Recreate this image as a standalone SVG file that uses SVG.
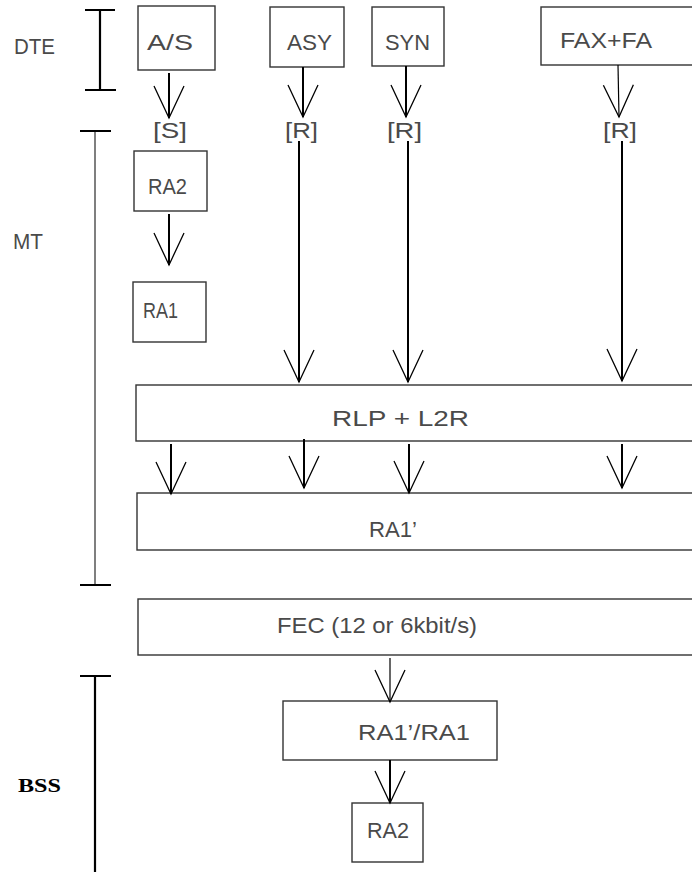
<svg xmlns="http://www.w3.org/2000/svg" width="692" height="872" viewBox="0 0 692 872">
<style>
.box{fill:none;stroke:#333;stroke-width:1.4}
.lbl{font-family:"Liberation Sans",Arial,sans-serif;font-size:22px;fill:#4a4a4a}
.bss{font-family:"Liberation Serif","Times New Roman",serif;font-size:19px;font-weight:bold;fill:#000}
.shaft{stroke:#000;stroke-width:2;fill:none}
.thin{stroke:#000;stroke-width:1.2;fill:none}
.brk{stroke:#000;stroke-width:2.2;fill:none}
.brkg{stroke:#555;stroke-width:1.5;fill:none}
</style>
<defs>
<marker id="v" markerUnits="userSpaceOnUse" viewBox="-34 -17 36 34" refX="0" refY="0" markerWidth="36" markerHeight="34" orient="auto">
<path d="M-32,-15 L0,0 L-32,15" fill="none" stroke="#000" stroke-width="1.3"/>
</marker>
</defs>
<rect width="692" height="872" fill="#fff"/>

<g id="brackets">
<path class="brk" d="M100,10 V90 M85,10 H115 M85,90 H116"/>
<path class="brkg" d="M95,131 V585"/>
<path class="brk" d="M80,131 H111 M80,585 H111"/>
<path class="brk" d="M95,676 V872 M80,676 H111"/>
</g>

<g id="labels">
<text class="lbl" x="14" y="54" textLength="41" lengthAdjust="spacingAndGlyphs">DTE</text>
<text class="lbl" x="13" y="249" textLength="30" lengthAdjust="spacingAndGlyphs">MT</text>
<text class="bss" x="18" y="792" textLength="43" lengthAdjust="spacingAndGlyphs">BSS</text>
</g>

<g id="n-as"><rect class="box" x="138" y="6" width="77" height="64"/><text class="lbl" x="147" y="50" textLength="46" lengthAdjust="spacingAndGlyphs">A/S</text></g>
<g id="n-asy"><rect class="box" x="270" y="7" width="74" height="60"/><text class="lbl" x="287" y="50" textLength="45" lengthAdjust="spacingAndGlyphs">ASY</text></g>
<g id="n-syn"><rect class="box" x="372" y="7" width="72" height="59"/><text class="lbl" x="385" y="50" textLength="45" lengthAdjust="spacingAndGlyphs">SYN</text></g>
<g id="n-fax"><rect class="box" x="541" y="7" width="160" height="58"/><text class="lbl" x="560" y="48" textLength="92" lengthAdjust="spacingAndGlyphs">FAX+FA</text></g>

<g id="n-s"><text class="lbl" x="153" y="138" textLength="34" lengthAdjust="spacingAndGlyphs">[S]</text></g>
<g id="n-r1"><text class="lbl" x="285" y="138" textLength="33" lengthAdjust="spacingAndGlyphs">[R]</text></g>
<g id="n-r2"><text class="lbl" x="387" y="138" textLength="35" lengthAdjust="spacingAndGlyphs">[R]</text></g>
<g id="n-r3"><text class="lbl" x="603" y="138" textLength="34" lengthAdjust="spacingAndGlyphs">[R]</text></g>

<g id="n-ra2mt"><rect class="box" x="134" y="151" width="73" height="60"/><text class="lbl" x="148" y="194" textLength="39" lengthAdjust="spacingAndGlyphs">RA2</text></g>
<g id="n-ra1mt"><rect class="box" x="133" y="282" width="73" height="60"/><text class="lbl" x="143" y="318" textLength="35" lengthAdjust="spacingAndGlyphs">RA1</text></g>

<g id="n-rlp"><rect class="box" x="136" y="385" width="570" height="56"/><text class="lbl" x="332" y="426" textLength="137" lengthAdjust="spacingAndGlyphs">RLP  +  L2R</text></g>
<g id="n-ra1p"><rect class="box" x="137" y="493" width="570" height="57"/><text class="lbl" x="369" y="537" textLength="48" lengthAdjust="spacingAndGlyphs">RA1’</text></g>
<g id="n-fec"><rect class="box" x="138" y="599" width="570" height="56"/><text class="lbl" x="277" y="633" textLength="200" lengthAdjust="spacingAndGlyphs">FEC (12 or 6kbit/s)</text></g>
<g id="n-ra1ra1"><rect class="box" x="283" y="701" width="214" height="59"/><text class="lbl" x="358" y="740" textLength="112" lengthAdjust="spacingAndGlyphs">RA1’/RA1</text></g>
<g id="n-ra2bss"><rect class="box" x="352" y="803" width="71" height="59"/><text class="lbl" x="367" y="838" textLength="42" lengthAdjust="spacingAndGlyphs">RA2</text></g>

<g id="connectors">
<path class="shaft" marker-end="url(#v)" d="M169,73 V118"/>
<path class="shaft" marker-end="url(#v)" d="M303,67 V117"/>
<path class="shaft" marker-end="url(#v)" d="M406,66 V117"/>
<path class="thin" marker-end="url(#v)" d="M618,65 L619,117"/>
<path class="shaft" marker-end="url(#v)" d="M299,141 V382"/>
<path class="shaft" marker-end="url(#v)" d="M408,141 V382"/>
<path class="shaft" marker-end="url(#v)" d="M622,141 V381"/>
<path class="shaft" marker-end="url(#v)" d="M169,214 V265"/>
<path class="shaft" marker-end="url(#v)" d="M171,444 V494"/>
<path class="shaft" marker-end="url(#v)" d="M304,439 V488"/>
<path class="shaft" marker-end="url(#v)" d="M409,444 V493"/>
<path class="shaft" marker-end="url(#v)" d="M622,444 V488"/>
<path class="thin" marker-end="url(#v)" d="M390,658 V702"/>
<path class="shaft" marker-end="url(#v)" d="M390,760 V803"/>
</g>
</svg>
